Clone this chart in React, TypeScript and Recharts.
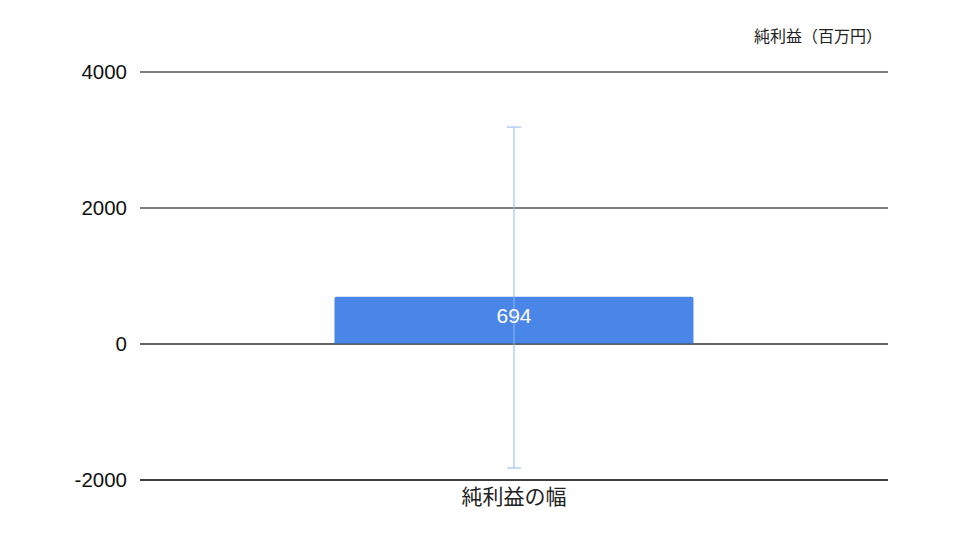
import React from 'react';
import {
  BarChart, Bar, XAxis, YAxis, CartesianGrid, ErrorBar, LabelList, ReferenceLine
} from 'recharts';

const categories = ['純利益の幅'];
const values = [694];
// [below, above] distance from the bar value
const errorRanges = [[2518, 2496]];
const yTicks = [-2000, 0, 2000, 4000];

const data = categories.map((name, i) => ({
  name,
  value: values[i],
  err: errorRanges[i],
}));

const FONT = '"Liberation Sans", Arial, "Noto Sans CJK JP", sans-serif';

export default function App() {
  return (
    <div style={{ position: 'absolute', left: 0, top: 0, width: 960, height: 540, background: '#fff', fontFamily: FONT }}>
      <div style={{ position: 'absolute', right: 78, top: 23, fontSize: 16, color: '#222', fontFamily: '"Noto Sans CJK JP", sans-serif' }}>
        純利益（百万円）
      </div>
      <BarChart
        width={960}
        height={540}
        data={data}
        margin={{ top: 72, right: 72, bottom: 0, left: 0 }}
        barCategoryGap="26%"
      >
        <CartesianGrid horizontal vertical={false} stroke="#000" strokeOpacity={1} />
        <XAxis
          dataKey="name"
          height={60}
          tickLine={false}
          axisLine={{ stroke: '#000' }}
          tickSize={0}
          tickMargin={9}
          tick={{ fill: '#222', fontSize: 21, fontFamily: '"Noto Sans CJK JP", sans-serif' }}
        />
        <YAxis
          width={140}
          domain={[-2000, 4000]}
          ticks={yTicks}
          axisLine={false}
          tickLine={false}
          tickSize={0}
          tickMargin={13}
          tick={{ fill: '#111', fontSize: 20.5, fontFamily: FONT }}
        />
        <ReferenceLine y={0} stroke="#444" />
        <Bar dataKey="value" fill="#4a86e8" radius={[2, 2, 0, 0]} isAnimationActive={false}>
          <LabelList
            dataKey="value"
            position="insideTop"
            offset={11}
            fill="#fff"
            fontSize={21}
            fontFamily={FONT}
          />
          <ErrorBar dataKey="err" width={7} stroke="#8fb8f2" strokeWidth={1} isAnimationActive={false} />
        </Bar>
      </BarChart>
    </div>
  );
}
